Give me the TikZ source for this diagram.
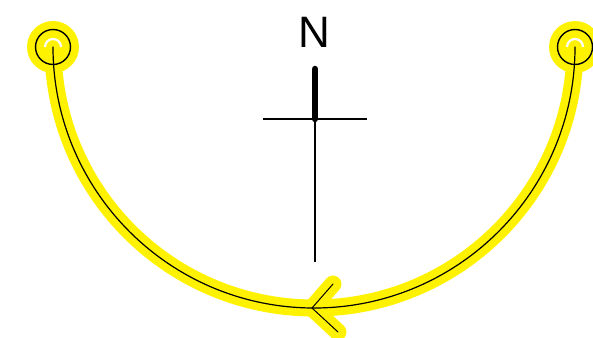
\documentclass[tikz,border=0pt]{standalone}
\usepackage{fontspec}
\setmainfont{Liberation Sans}
\begin{document}
\begin{tikzpicture}[x=1pt,y=-1pt,
  halo/.style={yellow, line width=17pt, line cap=round, line join=round},
  ink/.style={black, line width=1.2pt, line cap=round},
  ring/.style={black, line width=1.4pt},
  glint/.style={white, line width=2.2pt},
  thin/.style={black, line width=1.5pt}]
\useasboundingbox (0,0) rectangle (593,337);
\coordinate (L) at (53,47);
\coordinate (R) at (575,47);
\coordinate (T) at (312,308);
\coordinate (A1) at (333,284);
\coordinate (A2) at (338,332);
% halo
\fill[yellow] (L) circle (26);
\fill[yellow] (R) circle (26);
\draw[halo] (L) arc[start angle=180, end angle=0, radius=261];
\draw[halo] (A1) -- (T) -- (A2);
% ink
\draw[ink] (L) arc[start angle=180, end angle=0, radius=261];
\draw[ink, line width=1pt] (A1) -- (T) -- (A2);
\draw[ring] (L) circle (17.5);
\draw[ring] (R) circle (17.5);
\draw[glint] ([xshift=8pt]L) arc[start angle=0, end angle=-180, radius=8];
\draw[glint] ([xshift=8pt]R) arc[start angle=0, end angle=-180, radius=8];
% compass
\node[font=\fontsize{44}{44}\selectfont, inner sep=0pt] (N) at (314,32) {N};
\coordinate (NT) at (315,69);
\coordinate (X) at (315,119);
\coordinate (W) at (263,119);
\coordinate (E) at (367,119);
\coordinate (S) at (315,262);
\draw[black, line width=6.5pt, line cap=round] (NT) -- (X);
\draw[thin] (W) -- (E);
\draw[thin] (X) -- (S);
\end{tikzpicture}
\end{document}
